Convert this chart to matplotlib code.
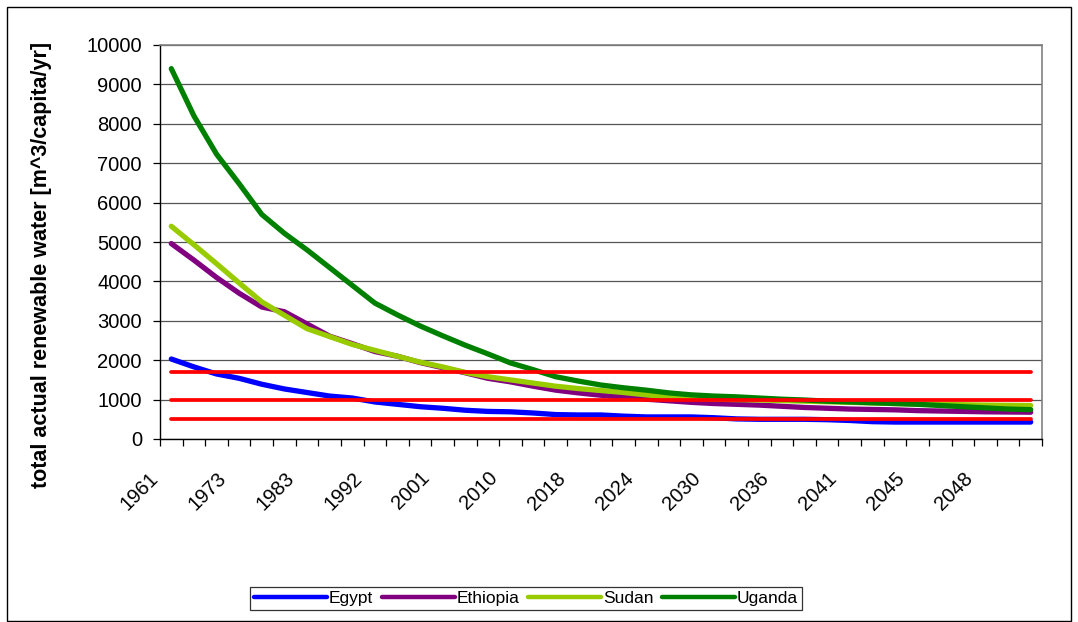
import matplotlib
matplotlib.use("Agg")
import matplotlib.pyplot as plt
import matplotlib.transforms as mtransforms
from matplotlib.patches import Rectangle
import numpy as np

plt.rcParams['font.family'] = ['Liberation Sans', 'DejaVu Sans']

years = [1961, 1965, 1969, 1973, 1977, 1980, 1983, 1986, 1989, 1992, 1995, 1998,
         2001, 2004, 2007, 2010, 2013, 2015, 2018, 2020, 2022, 2024, 2026, 2028,
         2030, 2032, 2034, 2036, 2038, 2040, 2041, 2042, 2044, 2045, 2046, 2047,
         2048, 2049, 2050]
labelled_years = [1961, 1973, 1983, 1992, 2001, 2010, 2018, 2024, 2030, 2036,
                  2041, 2045, 2048]

egypt = [2030, 1830, 1650, 1540, 1390, 1270, 1180, 1090, 1040, 940, 880, 820,
         780, 730, 700, 690, 660, 620, 610, 610, 580, 560, 560, 560,
         540, 510, 500, 500, 500, 490, 470, 440, 430, 430, 430, 430,
         430, 430, 430]
ethiopia = [4960, 4540, 4100, 3700, 3350, 3230, 2920, 2610, 2420, 2220, 2100, 1940,
            1810, 1680, 1540, 1450, 1340, 1240, 1170, 1110, 1070, 1010, 970, 930,
            900, 880, 860, 830, 800, 780, 760, 750, 740, 720, 710, 700,
            690, 685, 680]
sudan = [5400, 4930, 4450, 3960, 3480, 3140, 2800, 2600, 2400, 2250, 2100, 1950,
         1830, 1690, 1580, 1500, 1420, 1340, 1280, 1230, 1180, 1120, 1070, 1040,
         1010, 1000, 990, 975, 960, 945, 930, 915, 900, 890, 880, 870,
         860, 855, 850]
uganda = [9400, 8200, 7230, 6480, 5700, 5220, 4800, 4350, 3900, 3450, 3150, 2870,
          2620, 2380, 2160, 1930, 1760, 1580, 1470, 1370, 1300, 1240, 1170, 1120,
          1090, 1070, 1040, 1010, 990, 960, 940, 920, 900, 880, 850, 820,
          790, 760, 745]
thresholds = [1700, 1000, 500]

series = [("Egypt", egypt, "#0000FF"),
          ("Ethiopia", ethiopia, "#800080"),
          ("Sudan", sudan, "#99CC00"),
          ("Uganda", uganda, "#008000")]

W, H = 1078, 622
fig = plt.figure(figsize=(W / 100, H / 100), dpi=100)
fig.patch.set_facecolor("white")

left, right, top, bottom = 160, 1042, 45, 439
ax = fig.add_axes([left / W, 1 - bottom / H, (right - left) / W, (bottom - top) / H])

x = np.arange(len(years))
handles = []
for name, vals, col in series:
    h, = ax.plot(x, vals, color=col, lw=3.8, solid_capstyle='round',
                 solid_joinstyle='round', label=name, zorder=3)
    handles.append(h)
for t in thresholds:
    ax.plot(x, [t] * len(x), color="#FF0000", lw=2.7, solid_capstyle='round', zorder=4)

ax.set_xlim(-0.5, len(years) - 0.5)
ax.set_ylim(0, 10000)
ax.set_yticks(np.arange(0, 10001, 1000))
ax.yaxis.grid(True, color="#555555", lw=0.9)
ax.set_axisbelow(True)

# x ticks: minor at category boundaries, labels every 3rd category
ax.set_xticks(np.arange(-0.5, len(years), 1.0), minor=True)
lab_pos = [years.index(y) for y in labelled_years]
ax.set_xticks(lab_pos)
ax.set_xticklabels([str(y) for y in labelled_years], rotation=45, ha='right',
                   va='center', rotation_mode='anchor', fontsize=14.5)
ax.tick_params(axis='x', which='major', length=0, pad=26)
ax.tick_params(axis='x', which='minor', length=5, width=0.9, color='black', direction='out')
ax.tick_params(axis='y', which='major', length=5, width=0.9, direction='out', labelsize=14.5, pad=8)
offset = mtransforms.ScaledTranslation(-16 / 100, 0, fig.dpi_scale_trans)
for lbl in ax.get_xticklabels():
    lbl.set_transform(lbl.get_transform() + offset)

for s in ['left', 'bottom']:
    ax.spines[s].set_color('black')
    ax.spines[s].set_linewidth(1.0)
for s in ['top', 'right']:
    ax.spines[s].set_color('#808080')
    ax.spines[s].set_linewidth(1.2)

ax.set_ylabel("total actual renewable water [m^3/capita/yr]", fontsize=15.5,
              fontweight='bold')
ax.yaxis.set_label_coords((52 - left) / (right - left), (bottom - 265) / (bottom - top))

leg = fig.legend(handles=handles, loc='center', ncol=4,
                 bbox_to_anchor=(526 / W, 1 - 598.5 / H), frameon=True, fancybox=False,
                 edgecolor='black', fontsize=12.5, handlelength=4.2, handletextpad=0.1,
                 columnspacing=0.5, borderpad=0.25)
leg.get_frame().set_linewidth(0.9)
for lh in leg.get_lines():
    lh.set_linewidth(3.2)

# outer chart border
fig.patches.append(Rectangle((7 / W, 1 / H), (W - 14) / W, (H - 8) / H, transform=fig.transFigure,
                             fill=False, edgecolor='black', lw=1.0))

fig.savefig("out.png", dpi=100, facecolor='white')
